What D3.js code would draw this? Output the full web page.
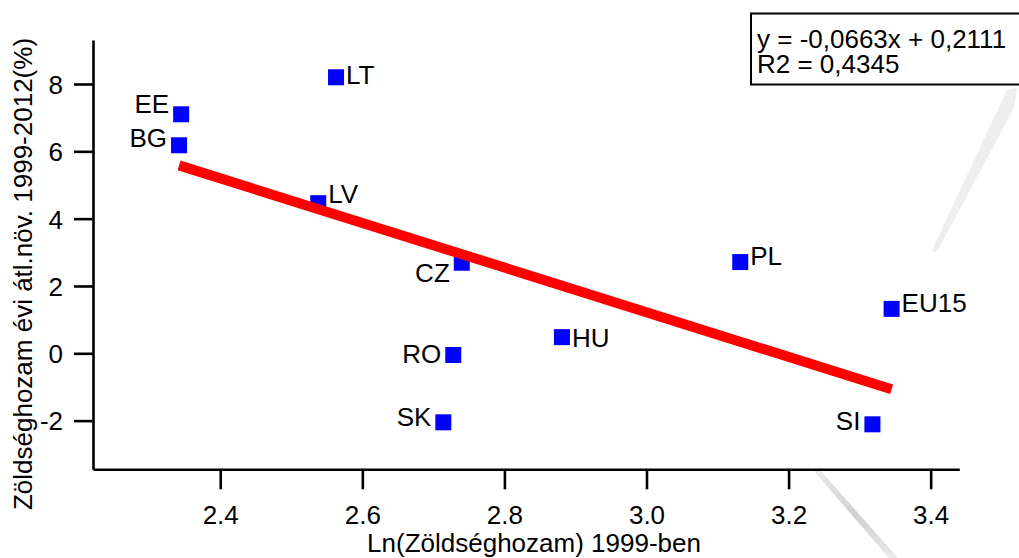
<!DOCTYPE html>
<html>
<head>
<meta charset="utf-8">
<script src="https://cdn.jsdelivr.net/npm/d3@7"></script>
<style>
  html, body { margin: 0; padding: 0; background: #fff; }
  svg { display: block; font-family: "Liberation Sans", Arial, sans-serif; }
</style>
</head>
<body>
<svg id="chart" width="1019" height="558"></svg>
<script>
// ---- data ----
const countries = ["LT", "EE", "BG", "LV", "CZ", "RO", "SK", "HU", "EU15", "SI", "PL"];
const lnYield1999 = [2.563, 2.345, 2.342, 2.538, 2.740, 2.728, 2.714, 2.881, 3.345, 3.318, 3.132];
const growthPct = [8.20, 7.10, 6.18, 4.46, 2.69, -0.05, -2.05, 0.48, 1.32, -2.11, 2.71];
// label side: which side of the marker the label sits; vertical nudge (px) of the baseline
const labelSide = ["right", "left", "left", "right", "left", "left", "left", "right", "right", "left", "right"];
const labelNudge = [7, -1, 2, 0, 19, 8, 4, 10, 3, 6, 3];
const xTickValues = [2.4, 2.6, 2.8, 3.0, 3.2, 3.4];
const xTickLabels = ["2.4", "2.6", "2.8", "3.0", "3.2", "3.4"];
const yTickValues = [-2, 0, 2, 4, 6, 8];
const yTickLabels = ["-2", "0", "2", "4", "6", "8"];
const xDomain = [2.2209, 3.4403];
const yDomain = [-3.446, 9.307];
const trendSlope = -6.63;      // in % units: y = -0,0663x + 0,2111
const trendIntercept = 21.11;
const equationLines = ["y = -0,0663x + 0,2111", "R2 = 0,4345"];
const xTitle = "Ln(Zöldséghozam) 1999-ben";
const yTitle = "Zöldséghozam évi átl.növ. 1999-2012(%)";

// ---- layout ----
const svg = d3.select("#chart");
const plot = { left: 93, right: 959.3, top: 40, bottom: 469.3 };
const FS = 26;

const x = d3.scaleLinear().domain(xDomain).range([plot.left, plot.right]);
const y = d3.scaleLinear().domain(yDomain).range([plot.bottom, plot.top]);

// decorative grey streaks present in the source image
const defs = svg.append("defs");
const g1 = defs.append("linearGradient").attr("id", "streak2").attr("x1", "0").attr("y1", "0").attr("x2", "1").attr("y2", "1");
g1.append("stop").attr("offset", "0").attr("stop-color", "#ececec");
g1.append("stop").attr("offset", "0.5").attr("stop-color", "#d0d0d0");
g1.append("stop").attr("offset", "1").attr("stop-color", "#ebebeb");
svg.append("path")
  .attr("d", "M1007,90 L1017,88 L1014,108 L938,250 Q934,255 932,250 Z")
  .attr("fill", "#eeeeee");
svg.append("path")
  .attr("d", "M813,470 L819,469 L898,558 L889,558 Z")
  .attr("fill", "url(#streak2)");

// axes
const xAxis = d3.axisBottom(x)
  .tickValues(xTickValues)
  .tickFormat((d, i) => xTickLabels[i])
  .tickSizeInner(20).tickSizeOuter(0).tickPadding(16);
const yAxis = d3.axisLeft(y)
  .tickValues(yTickValues)
  .tickFormat((d, i) => yTickLabels[i])
  .tickSizeInner(19).tickSizeOuter(0).tickPadding(11);

const gx = svg.append("g").attr("transform", `translate(0,${plot.bottom})`).call(xAxis);
const gy = svg.append("g").attr("transform", `translate(${plot.left},0)`).call(yAxis);
[gx, gy].forEach(g => {
  g.selectAll("path.domain").attr("stroke", "#000").attr("stroke-width", 2.6);
  g.selectAll(".tick line").attr("stroke", "#000").attr("stroke-width", 2.6);
  g.selectAll(".tick text").attr("fill", "#000").style("font-size", FS + "px")
    .style("font-family", '"Liberation Sans", Arial, sans-serif');
});
gy.selectAll(".tick text").attr("dy", "0.36em");

// axis titles
svg.append("text")
  .attr("x", 534).attr("y", 552)
  .attr("text-anchor", "middle")
  .style("font-size", FS + "px")
  .text(xTitle);
svg.append("text")
  .attr("transform", "translate(32,274) rotate(-90)")
  .attr("text-anchor", "middle")
  .style("font-size", FS + "px")
  .text(yTitle);

// points
const pts = countries.map((c, i) => ({ c, x: lnYield1999[i], y: growthPct[i], side: labelSide[i], nudge: labelNudge[i] }));
const SQ = 16;
svg.append("g").selectAll("rect").data(pts).join("rect")
  .attr("x", d => x(d.x) - SQ / 2)
  .attr("y", d => y(d.y) - SQ / 2)
  .attr("width", SQ).attr("height", SQ)
  .attr("fill", "#0000ff");

svg.append("g").selectAll("text").data(pts).join("text")
  .attr("x", d => d.side === "right" ? x(d.x) + SQ / 2 + 2 : x(d.x) - SQ / 2 - 4)
  .attr("y", d => y(d.y) + d.nudge)
  .attr("text-anchor", d => d.side === "right" ? "start" : "end")
  .style("font-size", FS + "px")
  .attr("fill", "#000")
  .text(d => d.c);

// trend line over the data range
const xMin = d3.min(lnYield1999), xMax = d3.max(lnYield1999);
svg.append("line")
  .attr("x1", x(xMin)).attr("y1", y(trendSlope * xMin + trendIntercept))
  .attr("x2", x(xMax)).attr("y2", y(trendSlope * xMax + trendIntercept))
  .attr("stroke", "#ff0000").attr("stroke-width", 10).attr("stroke-linecap", "butt");

// equation box
svg.append("rect")
  .attr("x", 751).attr("y", 13.5).attr("width", 290).attr("height", 71)
  .attr("fill", "#fff").attr("stroke", "#000").attr("stroke-width", 2);
svg.append("g").selectAll("text").data(equationLines).join("text")
  .attr("x", 757).attr("y", (d, i) => 48 + i * 25)
  .style("font-size", FS + "px")
  .attr("fill", "#000")
  .text(d => d);
</script>
</body>
</html>
